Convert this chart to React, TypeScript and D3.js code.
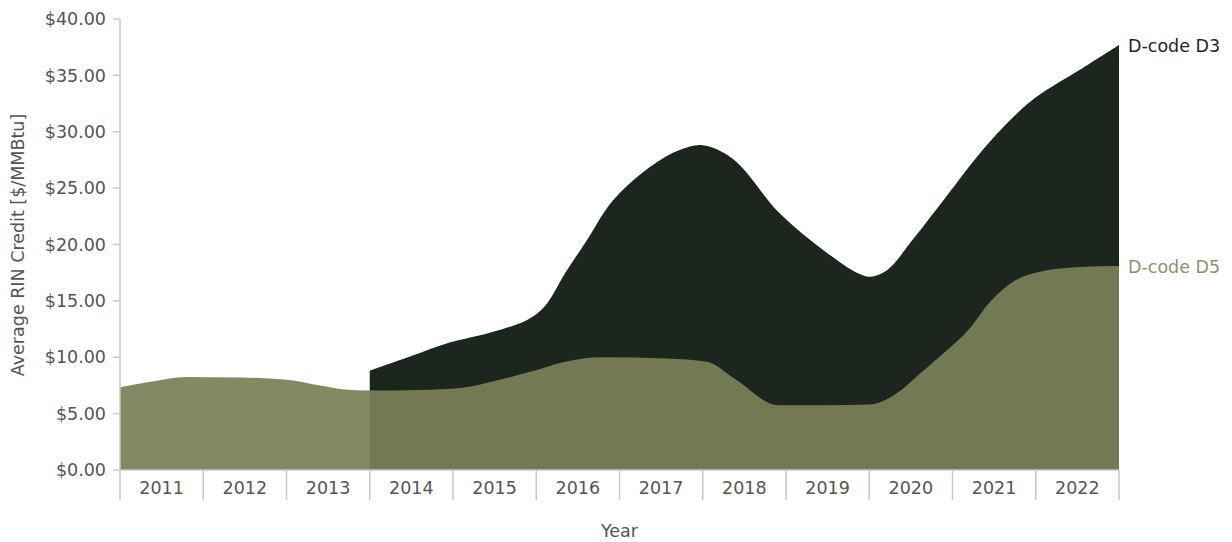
import React from 'react';
import * as d3 from 'd3';

const years = ['2011', '2012', '2013', '2014', '2015', '2016', '2017', '2018', '2019', '2020', '2021', '2022'];
const yTicks = [0, 5, 10, 15, 20, 25, 30, 35, 40];

const d5Dates = [2011.0, 2011.35, 2011.8, 2012.45, 2013.0, 2013.4, 2013.7, 2014.0, 2014.6, 2015.12, 2015.56, 2015.95, 2016.35, 2016.77, 2017.57, 2018.05, 2018.4, 2018.9, 2019.5, 2020.0, 2020.33, 2020.6, 2020.9, 2021.2, 2021.45, 2021.75, 2022.0, 2022.53, 2023.0];
const d5Values = [7.35, 7.8, 8.25, 8.2, 8.0, 7.5, 7.15, 7.05, 7.1, 7.3, 8.0, 8.75, 9.6, 10.0, 9.9, 9.6, 8.0, 5.75, 5.75, 5.8, 6.8, 8.5, 10.4, 12.5, 14.9, 16.8, 17.5, 18.0, 18.1];

const d3Dates = [2014.0, 2014.5, 2014.96, 2015.3, 2015.6, 2015.89, 2016.1, 2016.35, 2016.61, 2016.92, 2017.37, 2017.73, 2018.0, 2018.36, 2018.92, 2019.45, 2019.85, 2020.01, 2020.21, 2020.53, 2020.93, 2021.33, 2021.73, 2022.01, 2022.53, 2023.0];
const d3Values = [8.8, 10.1, 11.3, 11.9, 12.5, 13.3, 14.5, 17.5, 20.4, 23.9, 26.9, 28.4, 28.8, 27.6, 22.8, 19.5, 17.5, 17.15, 17.7, 20.5, 24.3, 28.1, 31.3, 33.1, 35.5, 37.7];

const W = 1232;
const H = 542;
const left = 120;
const right = 1119;
const top = 19;
const bottom = 470;
const FONT = '"DejaVu Sans", sans-serif';

type Pt = { t: number; v: number };

export default function App() {
  const xBand = d3.scaleBand<string>().domain(years).range([left, right]).paddingInner(0).paddingOuter(0);
  const x = d3.scaleLinear().domain([2011, 2023]).range([left, right]);
  const y = d3.scaleLinear().domain([0, 40]).range([bottom, top]);

  const d5 = d5Dates.map((t, i) => ({ t, v: d5Values[i] }));
  const d3s = d3Dates.map((t, i) => ({ t, v: d3Values[i] }));

  const areaD3 = d3
    .area<Pt>()
    .x((d) => x(d.t))
    .y0(y(0))
    .y1((d) => y(d.v))
    .curve(d3.curveCatmullRom.alpha(0.5));

  const areaD5 = d3
    .area<Pt>()
    .x((d) => x(d.t))
    .y0(y(0))
    .y1((d) => y(d.v))
    .curve(d3.curveMonotoneX);

  const boundaries = years.map((yr) => xBand(yr) as number).concat([right]);
  const last3 = d3s[d3s.length - 1];
  const last5 = d5[d5.length - 1];

  return (
    <svg width={W} height={H} style={{ position: 'absolute', left: 0, top: 0 }} fontFamily={FONT}>
      <rect x={0} y={0} width={W} height={H} fill="#ffffff" />
      <path d={areaD3(d3s) || ''} fill="#1d261e" />
      <path d={areaD5(d5) || ''} fill="#7a8157" fillOpacity={0.93} />

      {/* y axis */}
      <line x1={left} x2={left} y1={top} y2={bottom} stroke="#c8c8c8" strokeWidth={1.5} />
      {yTicks.map((t) => (
        <g key={t}>
          <line x1={left - 7} x2={left} y1={y(t)} y2={y(t)} stroke="#c8c8c8" strokeWidth={1.5} />
          <text x={left - 14} y={y(t)} dy="0.35em" textAnchor="end" fontSize={17.5} fill="#555555">
            {d3.format('$.2f')(t)}
          </text>
        </g>
      ))}

      {/* x axis */}
      <line x1={left} x2={right} y1={bottom} y2={bottom} stroke="#c8c8c8" strokeWidth={1.5} />
      {boundaries.map((b, i) => (
        <line key={i} x1={b} x2={b} y1={bottom} y2={bottom + 30} stroke="#c8c8c8" strokeWidth={1.5} />
      ))}
      {years.map((yr) => (
        <text
          key={yr}
          x={(xBand(yr) as number) + xBand.bandwidth() / 2}
          y={488}
          dy="0.35em"
          textAnchor="middle"
          fontSize={17.5}
          fill="#555555"
        >
          {yr}
        </text>
      ))}

      <text x={(left + right) / 2} y={531} dy="0.35em" textAnchor="middle" fontSize={17.5} fill="#555555">
        Year
      </text>
      <text
        transform={`translate(18, 245) rotate(-90)`}
        textAnchor="middle"
        dy="0.35em"
        fontSize={17.5}
        fill="#555555"
      >
        Average RIN Credit [$/MMBtu]
      </text>

      <text x={x(2023) + 9} y={y(last3.v) + 1} dy="0.35em" fontSize={17.5} fill="#1d261e">
        D-code D3
      </text>
      <text x={x(2023) + 9} y={y(last5.v) + 1} dy="0.35em" fontSize={17.5} fill="#8a9370">
        D-code D5
      </text>
    </svg>
  );
}
